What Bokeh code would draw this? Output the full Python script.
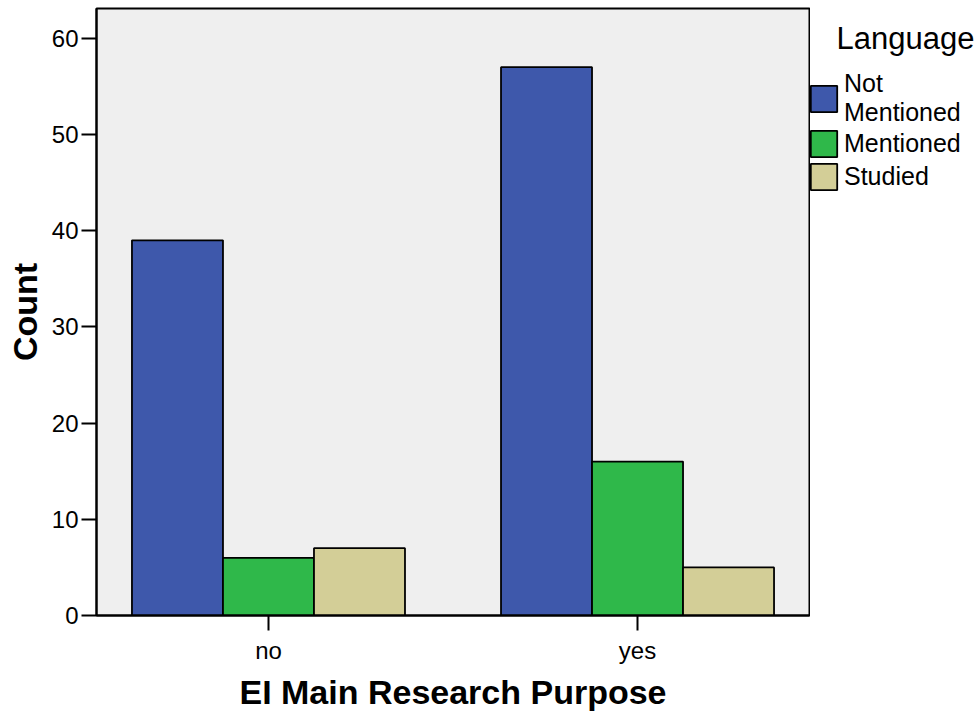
from bokeh.plotting import figure
from bokeh.layouts import row
from bokeh.models import (Range1d, Legend, LegendItem, FixedTicker, Label,
                          ColumnDataSource)
from bokeh.transform import dodge
from bokeh.embed import file_html
from bokeh.resources import INLINE

# ---- data ----
categories = ["no", "yes"]
series_labels = ["Not\nMentioned", "Mentioned", "Studied"]
legend_title = "Language"
not_mentioned = [39, 57]
mentioned = [6, 16]
studied = [7, 5]
y_ticks = [0, 10, 20, 30, 40, 50, 60]

colors = ["#3E58AB", "#2FB84A", "#D3CE97"]
FONT = "Liberation Sans"

idx = list(range(len(categories)))
source = ColumnDataSource(dict(x=idx, nm=not_mentioned, m=mentioned, s=studied))

# ---- main chart ----
p = figure(width=810, height=713, output_backend="svg", toolbar_location=None,
           x_range=Range1d(-0.466, 1.466), y_range=Range1d(0, 63.1),
           min_border_left=96, min_border_right=1, min_border_top=8,
           min_border_bottom=98)

p.background_fill_color = "#EFEFEF"
p.border_fill_color = "white"
p.outline_line_color = "black"
p.outline_line_width = 2
p.xgrid.visible = False
p.ygrid.visible = False

w = 0.2466
cols = ["nm", "m", "s"]
offsets = [-w, 0, w]
for col, off, c in zip(cols, offsets, colors):
    p.vbar(x=dodge("x", off, range=p.x_range), top=col, bottom=0, width=w,
           source=source, fill_color=c, line_color="black", line_width=1.8)

p.xaxis.ticker = FixedTicker(ticks=idx)
p.xaxis.major_label_overrides = {i: c for i, c in zip(idx, categories)}
p.yaxis.ticker = FixedTicker(ticks=y_ticks)
for ax in (p.xaxis[0], p.yaxis[0]):
    ax.axis_line_color = "black"
    ax.axis_line_width = 2
    ax.major_tick_line_color = "black"
    ax.major_tick_line_width = 2
    ax.major_tick_out = 15
    ax.major_tick_in = 0
    ax.minor_tick_line_color = None
    ax.major_label_text_font = FONT
    ax.major_label_text_font_size = "24px"
    ax.major_label_text_color = "black"
    ax.axis_label_text_font = FONT
    ax.axis_label_text_font_style = "bold"
    ax.axis_label_text_font_size = "34px"
    ax.axis_label_text_color = "black"

p.xaxis.axis_label = "EI Main Research Purpose"
p.yaxis.axis_label = "Count"
p.xaxis.major_label_standoff = 6
p.xaxis.axis_label_standoff = 6
p.yaxis.major_label_standoff = 3
p.yaxis.axis_label_standoff = 5

# ---- legend panel (separate figure, pixel coordinates) ----
lg = figure(width=169, height=713, output_backend="svg", toolbar_location=None,
            x_range=Range1d(0, 169), y_range=Range1d(0, 713),
            x_axis_type=None, y_axis_type=None,
            min_border_left=0, min_border_right=0, min_border_top=0,
            min_border_bottom=0)
lg.outline_line_color = None
lg.background_fill_color = "white"
lg.border_fill_color = "white"
lg.xgrid.visible = False
lg.ygrid.visible = False

items = []
for col, lab, c in zip(cols, series_labels, colors):
    # hidden proxies of the bar series, used only for the legend swatches
    r = lg.vbar(x="x", top=col, bottom=0, width=w, source=source,
                fill_color=c, line_color="black", line_width=1.8, visible=False)
    items.append(LegendItem(label=lab, renderers=[r]))

legend = Legend(items=items, location=(-3, 422), orientation="vertical",
                border_line_color=None, background_fill_alpha=0,
                inactive_fill_alpha=0,
                padding=0, margin=0, spacing=0,
                glyph_width=33, glyph_height=33, label_standoff=4,
                label_text_font=FONT, label_text_font_size="25px",
                label_text_line_height=1.0, label_text_color="black")
lg.add_layout(legend, "center")

lg.add_layout(Label(x=26, y=678, text=legend_title, text_font=FONT,
                    text_font_size="31px", text_baseline="middle",
                    text_align="left", text_color="black"))

layout = row(p, lg, spacing=0)
open("out.html", "w").write(file_html(layout, INLINE))
